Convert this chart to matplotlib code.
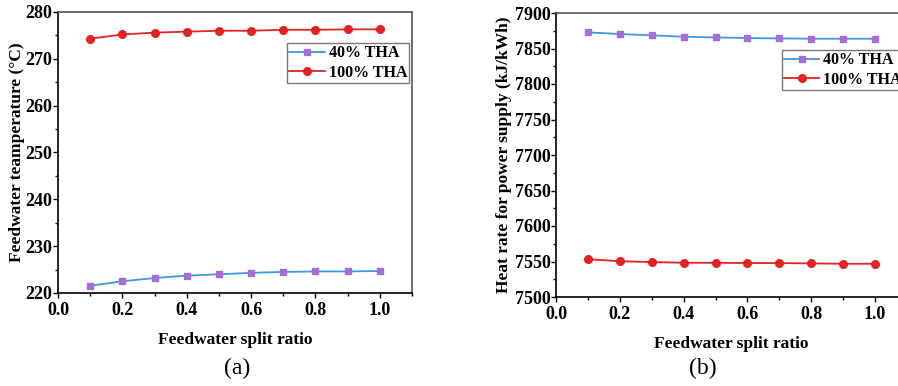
import matplotlib
matplotlib.use("Agg")
import matplotlib.pyplot as plt
from matplotlib.ticker import MultipleLocator, AutoMinorLocator

plt.rcParams['font.family'] = ['Liberation Serif', 'DejaVu Serif']
plt.rcParams['font.weight'] = 'bold'

split_ratio = [0.1, 0.2, 0.3, 0.4, 0.5, 0.6, 0.7, 0.8, 0.9, 1.0]
temp_40 = [221.55, 222.5, 223.2, 223.7, 224.0, 224.3, 224.5, 224.6, 224.6, 224.7]
temp_100 = [274.3, 275.2, 275.6, 275.8, 276.0, 276.0, 276.2, 276.2, 276.3, 276.3]
hr_40 = [7872.7, 7870.4, 7868.5, 7866.6, 7865.6, 7864.7, 7864.2, 7863.8, 7863.8, 7863.8]
hr_100 = [7553.2, 7550.4, 7549.2, 7548.2, 7548.2, 7547.8, 7547.8, 7547.3, 7546.8, 7546.8]
series_labels = ["40% THA", "100% THA"]

line_blue = '#3C9AD8'
mk_purple = '#A86CD8'
red = '#E32222'

fig = plt.figure(figsize=(8.98, 3.86), dpi=100)
ax1 = fig.add_axes([58/898, 1-293/386, 354/898, 281/386])
ax2 = fig.add_axes([556/898, 1-297/386, 351/898, 284/386])

def style(ax):
    ax.set_xlim(0, 1.1)
    ax.xaxis.set_major_locator(MultipleLocator(0.2))
    ax.xaxis.set_minor_locator(MultipleLocator(0.1))
    ax.yaxis.set_minor_locator(AutoMinorLocator(2))
    ax.tick_params(which='both', direction='out', top=False, right=False, labelsize=13)
    ax.tick_params(which='major', length=3.5, width=1)
    ax.tick_params(which='minor', length=2.5, width=1)
    ax.tick_params(axis='y', which='major', pad=0.5)
    ax.tick_params(axis='x', which='major', pad=3)
    for s in ['left', 'bottom']:
        ax.spines[s].set_color('black')
        ax.spines[s].set_linewidth(1.2)
    for s in ['top', 'right']:
        ax.spines[s].set_color('#555555')
        ax.spines[s].set_linewidth(1.2)
    for lab in ax.get_xticklabels() + ax.get_yticklabels():
        lab.set_fontweight('bold')
    ax.set_xlabel("Feedwater split ratio", fontsize=12.5, fontweight='bold', labelpad=9)

def draw(ax, y40, y100):
    ax.plot(split_ratio, y40, color=line_blue, lw=1.3, marker='s', ms=5,
            mfc=mk_purple, mec=mk_purple, label=series_labels[0])
    ax.plot(split_ratio, y100, color=red, lw=1.3, marker='o', ms=5.5,
            mfc=red, mec=red, label=series_labels[1])

legend_kw = dict(fontsize=11.5, frameon=True, fancybox=False, edgecolor='#555555',
                 handlelength=2.2, borderpad=0.15, labelspacing=0.2, handletextpad=0.25,
                 borderaxespad=0.0)

draw(ax1, temp_40, temp_100)
style(ax1)
ax1.set_ylim(220, 280)
ax1.yaxis.set_major_locator(MultipleLocator(10))
ax1.set_ylabel("Feedwater teamperature (\u00b0C)", fontsize=12.5, fontweight='bold')
ax1.yaxis.set_label_coords(-0.093, 0.5)
leg1 = ax1.legend(loc='upper left', bbox_to_anchor=(0.647, 0.89), **legend_kw)
leg1.get_frame().set_linewidth(1.0)

draw(ax2, hr_40, hr_100)
style(ax2)
ax2.set_ylim(7500, 7900)
ax2.yaxis.set_major_locator(MultipleLocator(50))
ax2.set_ylabel("Heat rate for power supply (kJ/kWh)", fontsize=12.5, fontweight='bold')
ax2.yaxis.set_label_coords(-0.125, 0.5)
leg2 = ax2.legend(loc='upper left', bbox_to_anchor=(0.643, 0.87), **legend_kw)
leg2.get_frame().set_linewidth(1.0)

fig.text(237/898, 1-368/386, "(a)", ha='center', va='center', fontsize=17, fontweight='normal')
fig.text(703/898, 1-368/386, "(b)", ha='center', va='center', fontsize=17, fontweight='normal')

fig.savefig("out.png", dpi=100)
